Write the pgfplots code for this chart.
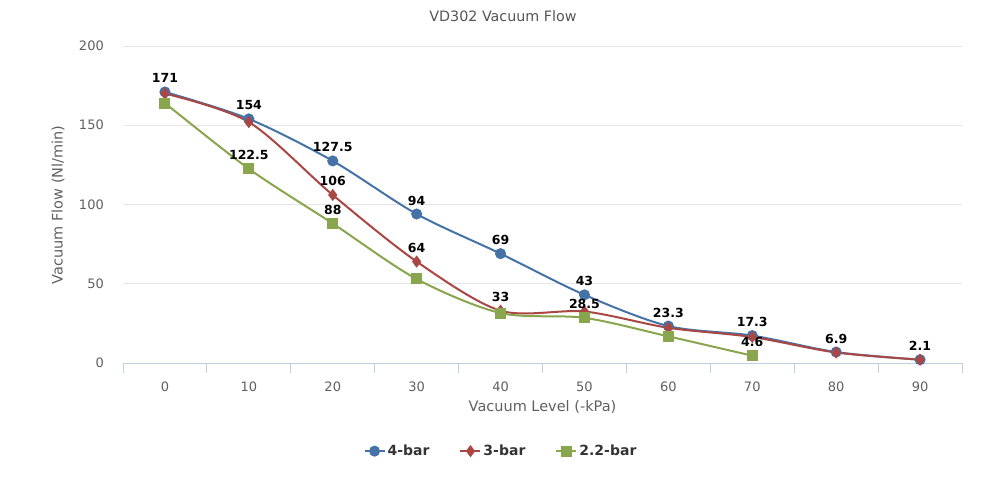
\documentclass[border=0pt]{standalone}
\usepackage{pgfplots}
\pgfplotsset{compat=1.18}
\usepackage{fontspec}
\setmainfont{DejaVu Sans}
\definecolor{cblue}{HTML}{4572A7}
\definecolor{cred}{HTML}{AA4643}
\definecolor{cgreen}{HTML}{89A54E}
\definecolor{gridc}{HTML}{E6E6E6}
\definecolor{axisc}{HTML}{C0D0E0}
\definecolor{labc}{HTML}{606060}
\definecolor{titc}{HTML}{555555}
\definecolor{legc}{HTML}{333333}
\begin{document}
\begin{tikzpicture}[x=1pt,y=1pt]
\useasboundingbox (0,0) rectangle (998,-497);
\begin{axis}[
  at={(123pt,-363pt)}, anchor=south west,
  scale only axis, width=839pt, height=317pt,
  xmin=-0.5, xmax=9.5, ymin=0, ymax=200,
  xtick={0,...,9},
  xticklabels={0,10,20,30,40,50,60,70,80,90},
  minor xtick={-0.5,0.5,...,9.5},
  ytick={0,50,100,150,200},
  separate axis lines,
  axis x line*=bottom, axis y line*=left,
  x axis line style={-, draw=axisc, line width=1pt},
  y axis line style={draw=none},
  major x tick style={draw=none},
  minor x tick style={draw=axisc, line width=1pt},
  minor tick length=10pt,
  xtick align=outside,
  major y tick style={draw=none},
  ymajorgrids, major grid style={draw=gridc, line width=1pt},
  tick label style={font=\fontsize{13}{15}\selectfont, color=labc},
  /pgf/number format/assume math mode=true,
  xticklabel style={anchor=base, inner sep=0pt, yshift=-24pt},
  yticklabel style={anchor=east, inner sep=0pt, xshift=-19pt},
  clip=false,
  legend style={at={(0.4505,-0.278)}, anchor=center, draw=none, fill=none,
    font=\bfseries\fontsize{14}{16}\selectfont, text=legc,
    /tikz/every even column/.append style={column sep=28pt},
    inner sep=0pt},
  legend columns=3,
  legend image code/.code={\draw[mark repeat=2,mark phase=2,#1] plot coordinates {(0pt,0pt) (10pt,0pt) (20pt,0pt)};},
  every node near coord/.append style={font=\bfseries\fontsize{12.5}{14}\selectfont, color=black, anchor=base, inner sep=0pt, yshift=9pt},
]
\addplot[cblue, line width=2pt, smooth, tension=0.5, mark=*, mark size=4.5pt, mark options={solid, fill=cblue}]
 coordinates {(0,171) (1,154) (2,127.5) (3,94) (4,69) (5,43) (6,23.3) (7,17.3) (8,6.9) (9,2.1)};
\addlegendentry{4-bar}
\addplot[cred, line width=2pt, smooth, tension=0.5, mark=diamond*, mark size=4.5pt, mark options={solid, fill=cred}]
 coordinates {(0,170) (1,152) (2,106) (3,64) (4,33) (5,32.5) (6,22.2) (7,16.4) (8,6.6) (9,2.1)};
\addlegendentry{3-bar}
\addplot[cgreen, line width=2pt, smooth, tension=0.5, mark=square*, mark size=4.5pt, mark options={solid, fill=cgreen}]
 coordinates {(0,164) (1,122.5) (2,88) (3,53) (4,31.5) (5,28.5) (6,16.8) (7,4.6)};
\addlegendentry{2.2-bar}
% data labels
\addplot[draw=none, mark=none, forget plot, nodes near coords, point meta=explicit symbolic]
 coordinates {(0,171)[171] (1,154)[154] (2,127.5)[127.5] (3,94)[94] (4,69)[69] (5,43)[43] (6,23.3)[23.3] (7,17.3)[17.3] (8,6.9)[6.9] (9,2.1)[2.1]};
\addplot[draw=none, mark=none, forget plot, nodes near coords, point meta=explicit symbolic]
 coordinates {(2,106)[106] (3,64)[64] (4,33)[33]};
\addplot[draw=none, mark=none, forget plot, nodes near coords, point meta=explicit symbolic]
 coordinates {(1,122.5)[122.5] (2,88)[88] (5,28.5)[28.5] (7,4.6)[4.6]};
\end{axis}
\node[font=\fontsize{14.3}{16}\selectfont, text=titc] at (503,-16) {VD302 Vacuum Flow};
\node[font=\fontsize{14.5}{16}\selectfont, text=labc, rotate=90] at (58,-205) {Vacuum Flow (Nl/min)};
\node[font=\fontsize{14.5}{16}\selectfont, text=labc] at (542.5,-407) {Vacuum Level (-kPa)};
\end{tikzpicture}
\end{document}
